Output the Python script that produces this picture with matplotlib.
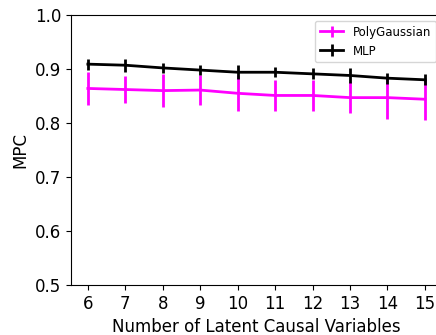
import matplotlib
matplotlib.use("Agg")
import matplotlib.pyplot as plt

x_vals = [6, 7, 8, 9, 10, 11, 12, 13, 14, 15]
poly_mean = [0.864, 0.862, 0.860, 0.861, 0.855, 0.851, 0.851, 0.847, 0.847, 0.844]
poly_err = [0.031, 0.025, 0.031, 0.028, 0.033, 0.029, 0.028, 0.029, 0.039, 0.038]
mlp_mean = [0.909, 0.907, 0.902, 0.898, 0.894, 0.894, 0.891, 0.888, 0.883, 0.880]
mlp_err = [0.010, 0.012, 0.009, 0.009, 0.013, 0.009, 0.010, 0.013, 0.010, 0.010]

fig = plt.figure(figsize=(4.36, 3.35), dpi=100)
W, H = 436, 335
left, right, top, bottom = 71, 441.8, 15, 285
ax = fig.add_axes([left / W, 1 - bottom / H, (right - left) / W, (bottom - top) / H])

ax.errorbar(x_vals, poly_mean, yerr=poly_err, color="magenta", lw=2, elinewidth=2, label="PolyGaussian")
ax.errorbar(x_vals, mlp_mean, yerr=mlp_err, color="black", lw=2, elinewidth=2, label="MLP")

ax.set_ylim(0.5, 1.0)
ax.set_xlim(5.55, 15.45)
ax.set_xticks(x_vals)
ax.tick_params(labelsize=12)
ax.set_xlabel("Number of Latent Causal Variables", fontsize=12)
ax.set_ylabel("MPC", fontsize=12)
ax.legend(loc="upper right", fontsize=8.5)

fig.savefig("out.png", dpi=100)
